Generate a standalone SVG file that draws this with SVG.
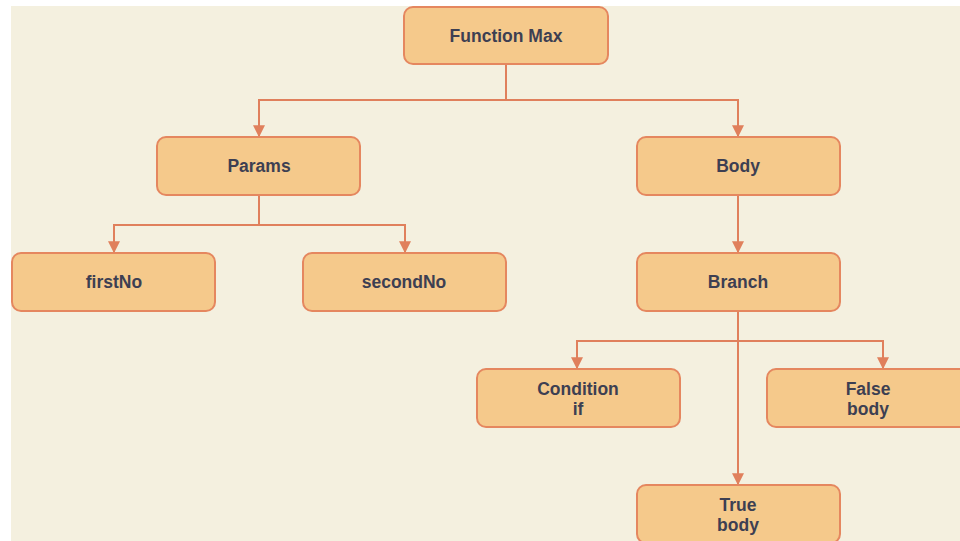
<svg xmlns="http://www.w3.org/2000/svg" width="960" height="541" viewBox="0 0 960 541">
<defs>
<style>
.node rect{fill:#f5c98b;stroke:#e5875f;stroke-width:2}
.node text{font-family:"Liberation Sans",Arial,sans-serif;font-weight:bold;font-size:17.5px;fill:#3d3f52;text-anchor:middle}
.edge{fill:none;stroke:#e0805c;stroke-width:2}
</style>
<marker id="arr" viewBox="0 0 10 10" refX="9" refY="5" markerWidth="12" markerHeight="12" markerUnits="userSpaceOnUse" orient="auto">
<path d="M0,0 L10,5 L0,10 Z" fill="#e0805c"/>
</marker>
</defs>
<rect x="0" y="0" width="960" height="541" fill="#ffffff"/>
<rect x="11" y="6" width="949" height="535" fill="#f4f0df"/>
<g id="connectors">
<path class="edge" d="M506,64 V100 H259 V136" marker-end="url(#arr)"/>
<path class="edge" d="M506,100 H738 V136" marker-end="url(#arr)"/>
<path class="edge" d="M259,195 V225 H114 V252" marker-end="url(#arr)"/>
<path class="edge" d="M259,225 H405 V252" marker-end="url(#arr)"/>
<path class="edge" d="M738,195 V252" marker-end="url(#arr)"/>
<path class="edge" d="M738,311 V484" marker-end="url(#arr)"/>
<path class="edge" d="M738,341 H577 V368" marker-end="url(#arr)"/>
<path class="edge" d="M738,341 H883 V368" marker-end="url(#arr)"/>
</g>
<g id="function-max" class="node"><rect x="404" y="7" width="204" height="57" rx="9"/><text x="506" y="42">Function Max</text></g>
<g id="params" class="node"><rect x="157" y="137" width="203" height="58" rx="9"/><text x="259" y="172">Params</text></g>
<g id="body" class="node"><rect x="637" y="137" width="203" height="58" rx="9"/><text x="738" y="172">Body</text></g>
<g id="firstNo" class="node"><rect x="12" y="253" width="203" height="58" rx="9"/><text x="114" y="288">firstNo</text></g>
<g id="secondNo" class="node"><rect x="303" y="253" width="203" height="58" rx="9"/><text x="404" y="288">secondNo</text></g>
<g id="branch" class="node"><rect x="637" y="253" width="203" height="58" rx="9"/><text x="738" y="288">Branch</text></g>
<g id="condition-if" class="node"><rect x="477" y="369" width="203" height="58" rx="9"/><text x="578" y="395">Condition</text><text x="578" y="415">if</text></g>
<g id="false-body" class="node"><rect x="767" y="369" width="203" height="58" rx="9"/><text x="868" y="395">False</text><text x="868" y="415">body</text></g>
<g id="true-body" class="node"><rect x="637" y="485" width="203" height="58" rx="9"/><text x="738" y="511">True</text><text x="738" y="531">body</text></g>
</svg>
